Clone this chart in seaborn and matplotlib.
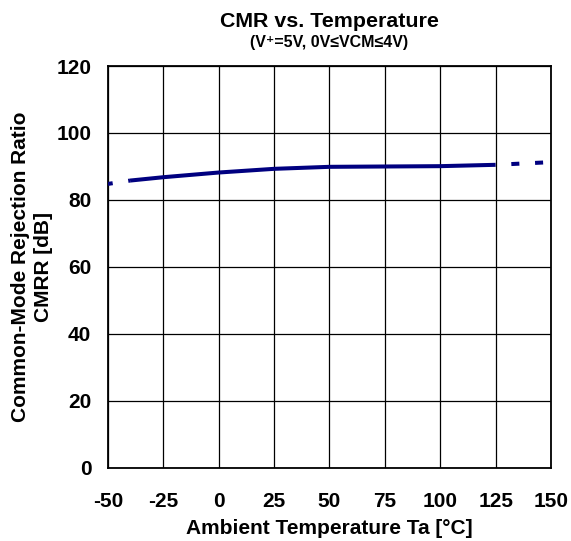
import matplotlib
matplotlib.use("Agg")
import matplotlib.pyplot as plt
import seaborn as sns
import pandas as pd

# Ambient temperature (°C) and common-mode rejection ratio (dB)
temperature = [-50, -40, -25, 0, 25, 50, 75, 100, 125, 150]
cmrr_db = [84.8, 85.8, 86.8, 88.2, 89.3, 89.9, 90.0, 90.1, 90.5, 91.3]
# Guaranteed operating range is drawn solid, extrapolated ends dashed
solid_range = (-40, 125)

x_ticks = [-50, -25, 0, 25, 50, 75, 100, 125, 150]
y_ticks = [0, 20, 40, 60, 80, 100, 120]

sns.set_theme(style="white")
plt.rcParams["font.family"] = ["Liberation Sans", "DejaVu Sans"]
plt.rcParams["font.weight"] = "bold"
for key in ("text.color", "axes.labelcolor", "xtick.color", "ytick.color"):
    plt.rcParams[key] = "black"

df = pd.DataFrame({"Ta": temperature, "CMRR": cmrr_db})
lo, hi = solid_range
solid = df[(df.Ta >= lo) & (df.Ta <= hi)]
left_ext = df[df.Ta <= lo]
right_ext = df[df.Ta >= hi]

fig = plt.figure(figsize=(5.71, 5.41), dpi=100)
ax = fig.add_axes([0.189, 0.135, 0.776, 0.743])

line_color = "#000080"
lw = 2.9
sns.lineplot(data=solid, x="Ta", y="CMRR", ax=ax, color=line_color,
             linewidth=lw, solid_capstyle="butt", zorder=3)

# Extrapolated ends: short dashes, pattern phase chosen per side
for part, offset in ((left_ext, 0.8), (right_ext, 2.0)):
    n_before = len(ax.lines)
    sns.lineplot(data=part, x="Ta", y="CMRR", ax=ax, color=line_color,
                 linewidth=lw, zorder=3)
    for line in ax.lines[n_before:]:
        line.set_linestyle((offset, (2.0, 3.9)))
        line.set_dash_capstyle("butt")

ax.set_xlim(-50, 150)
ax.set_ylim(0, 120)
ax.set_xticks(x_ticks)
ax.set_yticks(y_ticks)
ax.set_xticklabels([str(v) for v in x_ticks], fontsize=15, fontweight="bold")
ax.set_yticklabels([str(v) for v in y_ticks], fontsize=15, fontweight="bold")
ax.tick_params(axis="x", length=0, pad=17)
ax.tick_params(axis="y", length=0, pad=12)

ax.grid(True, color="black", linewidth=0.9)
for spine in ax.spines.values():
    spine.set_color("black")
    spine.set_linewidth(1.3)

ax.set_xlabel("Ambient Temperature Ta [°C]", fontsize=15, fontweight="bold")
ax.xaxis.set_label_coords(0.5, -0.128)
ax.set_ylabel("Common-Mode Rejection Ratio\nCMRR [dB]", fontsize=15,
              fontweight="bold", linespacing=1.25)
ax.yaxis.set_label_coords(-0.125, 0.5)

fig.text(0.577, 0.950, "CMR vs. Temperature", ha="center", va="baseline",
         fontsize=15.4, fontweight="bold")
fig.text(0.577, 0.913, "(V\u207a=5V, 0V\u2264VCM\u22644V)", ha="center",
         va="baseline", fontsize=11.5, fontweight="bold")

fig.savefig("out.png", dpi=100)
